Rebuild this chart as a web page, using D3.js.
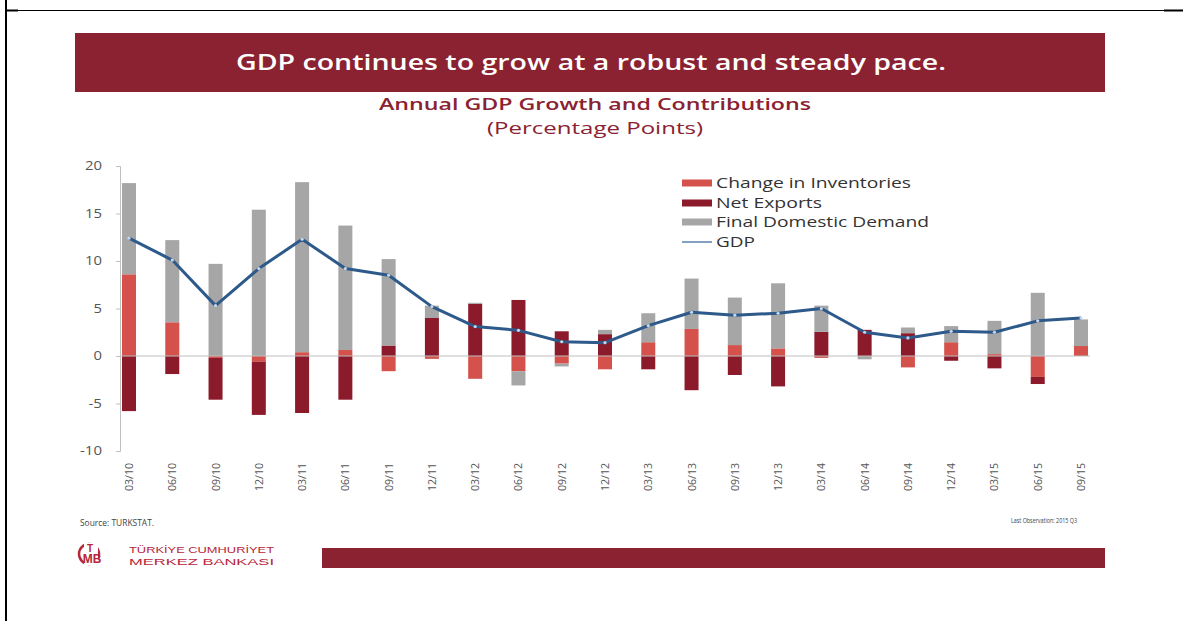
<!DOCTYPE html>
<html><head><meta charset="utf-8">
<script src="https://cdn.jsdelivr.net/npm/d3@7/dist/d3.min.js"></script>
<style>html,body{margin:0;padding:0;background:#fff;}svg{display:block;}</style>
</head><body>
<svg id="chart" width="1183" height="621"></svg>
<script>
const categories = ["03/10","06/10","09/10","12/10","03/11","06/11","09/11","12/11","03/12","06/12","09/12","12/12","03/13","06/13","09/13","12/13","03/14","06/14","09/14","12/14","03/15","06/15","09/15"];
const inventories = [8.6,3.55,-0.2,-0.6,0.4,0.63,-1.6,-0.3,-2.4,-1.6,-0.8,-1.4,1.45,2.85,1.15,0.8,-0.2,0,-1.2,1.45,0.2,-2.2,1.05];
const netExports  = [-5.8,-1.9,-4.4,-5.6,-6.0,-4.6,1.1,4.0,5.5,5.9,2.6,2.3,-1.4,-3.6,-2.0,-3.2,2.55,2.75,2.4,-0.5,-1.3,-0.75,0];
const finalDemand = [9.6,8.65,9.7,15.4,17.9,13.1,9.1,1.3,0.1,-1.5,-0.3,0.45,3.05,5.3,5.0,6.85,2.75,-0.35,0.6,1.7,3.5,6.65,2.8];
const gdp         = [12.4,10.1,5.3,9.2,12.3,9.2,8.5,5.2,3.1,2.7,1.5,1.4,3.2,4.6,4.3,4.5,5.0,2.5,1.9,2.6,2.5,3.7,4.0];
const yTicks = [-10,-5,0,5,10,15,20];
const seriesNames = ["Change in Inventories","Net Exports","Final Domestic Demand","GDP"];
const seriesColors = ["#d5514b","#8b1a2b","#a6a6a6","#2d5a8a"];

const svg = d3.select("#chart");
const maroon = "#8a2231";

function fit(sel, w){ sel.attr("textLength", w).attr("lengthAdjust","spacingAndGlyphs"); return sel; }

// frame lines
svg.append("line").attr("x1",6).attr("x2",6).attr("y1",0).attr("y2",621).attr("stroke","#000").attr("stroke-width",2);
svg.append("line").attr("x1",5).attr("x2",1183).attr("y1",10.5).attr("y2",10.5).attr("stroke","#000").attr("stroke-width",1);
svg.append("rect").attr("x",5).attr("y",9.5).attr("width",13).attr("height",2).attr("fill","#000");
svg.append("rect").attr("x",1164).attr("y",9.5).attr("width",19).attr("height",2).attr("fill","#000");

// banner
svg.append("rect").attr("x",75).attr("y",33).attr("width",1030).attr("height",59).attr("fill",maroon);
fit(svg.append("text").attr("x",236).attr("y",70).attr("fill","#fff")
  .attr("font-family","Open Sans").attr("font-weight",600).attr("font-size",22)
  .text("GDP continues to grow at a robust and steady pace."),710);

fit(svg.append("text").attr("x",379).attr("y",110).attr("fill",maroon)
  .attr("font-family","Open Sans").attr("font-weight",600).attr("font-size",16)
  .text("Annual GDP Growth and Contributions"),432);
fit(svg.append("text").attr("x",487).attr("y",134).attr("fill",maroon)
  .attr("font-family","Open Sans").attr("font-size",16)
  .text("(Percentage Points)"),216);

// scales
const y = d3.scaleLinear().domain([-10,20]).range([451,166]);
const x = d3.scalePoint().domain(categories).range([129,1081]);
const barW = 14;

// y axis
const yAxis = svg.append("g").attr("transform","translate(120,0)")
  .call(d3.axisLeft(y).tickValues(yTicks).tickSize(4).tickPadding(14).tickFormat(d=>String(d)));
yAxis.select(".domain").attr("stroke","#bfbfbf");
yAxis.selectAll(".tick line").attr("stroke","#bfbfbf");
yAxis.selectAll(".tick text").attr("fill","#555").attr("font-family","Open Sans").attr("font-size",12)
  .each(function(){ const t=d3.select(this); const s=t.text(); const w=s.replace("-","").length*8.5+(s.includes("-")?5:0); fit(t, w); });

// stacking
const series = [inventories, netExports, finalDemand];
const segs = [];
categories.forEach((c,i)=>{
  let pos=0, neg=0;
  series.forEach((s,k)=>{
    const v=s[i];
    if (v>=0){ segs.push({c,k,y0:pos,y1:pos+v}); pos+=v; }
    else { segs.push({c,k,y0:neg+v,y1:neg}); neg+=v; }
  });
});
svg.append("g").selectAll("rect").data(segs).join("rect")
  .attr("x",d=>x(d.c)-barW/2).attr("width",barW)
  .attr("y",d=>y(d.y1)).attr("height",d=>Math.max(0,y(d.y0)-y(d.y1)))
  .attr("fill",d=>seriesColors[d.k]);

// zero line
svg.append("line").attr("x1",120).attr("x2",1090).attr("y1",y(0)).attr("y2",y(0))
  .attr("stroke","#bfbfbf").attr("stroke-width",1.2);

// x labels
svg.append("g").selectAll("text").data(categories).join("text")
  .attr("transform",d=>`translate(${x(d)+4},463) rotate(-90)`)
  .attr("text-anchor","end").attr("fill","#555")
  .attr("font-family","Open Sans").attr("font-size",10.5)
  .text(d=>d)
  .each(function(){ fit(d3.select(this),28); });

// GDP line
const line = d3.line().x((d,i)=>x(categories[i])).y(d=>y(d));
svg.append("path").datum(gdp).attr("d",line).attr("fill","none")
  .attr("stroke",seriesColors[3]).attr("stroke-width",3).attr("stroke-linejoin","round");
svg.append("g").selectAll("circle").data(gdp).join("circle")
  .attr("cx",(d,i)=>x(categories[i])).attr("cy",d=>y(d)).attr("r",1.6).attr("fill","#c9d6e6");

// legend
const lg = svg.append("g");
const rowsY = [183,203,222,242];
const textW = [195,106,213,39];
seriesNames.forEach((n,i)=>{
  if (i<3) lg.append("rect").attr("x",682).attr("y",rowsY[i]-3.5).attr("width",30).attr("height",7).attr("fill",seriesColors[i]);
  else lg.append("line").attr("x1",682).attr("x2",712).attr("y1",rowsY[i]).attr("y2",rowsY[i]).attr("stroke","#5a7fae").attr("stroke-width",1.5);
  fit(lg.append("text").attr("x",716).attr("y",rowsY[i]+5).attr("fill","#333")
    .attr("font-family","Open Sans").attr("font-size",14.5).text(n), textW[i]);
});

// footer
fit(svg.append("text").attr("x",80).attr("y",526).attr("fill","#444").attr("font-family","Open Sans").attr("font-size",9).text("Source: TURKSTAT."),74);
fit(svg.append("text").attr("x",1044).attr("y",523).attr("fill","#444").attr("font-family","Open Sans").attr("font-size",8).attr("text-anchor","middle").text("Last Observation: 2015 Q3"),66);

// logo
const logo = svg.append("g");
logo.append("circle").attr("cx",89).attr("cy",554).attr("r",10).attr("fill","none").attr("stroke","#b8263a").attr("stroke-width",2.5);
logo.append("rect").attr("x",84).attr("y",543).attr("width",14).attr("height",22).attr("fill","#fff");
logo.append("text").attr("x",90).attr("y",552).attr("text-anchor","middle").attr("fill","#b8263a").attr("font-family","Liberation Sans Narrow, Liberation Sans").attr("font-weight","bold").attr("font-size",10).text("T");
logo.append("text").attr("x",92).attr("y",563).attr("text-anchor","middle").attr("fill","#b8263a").attr("font-family","Liberation Sans Narrow, Liberation Sans").attr("font-weight","bold").attr("font-size",12).text("MB");
fit(logo.append("text").attr("x",129).attr("y",553).attr("fill","#b8263a").attr("font-family","Liberation Sans Narrow, Liberation Sans").attr("font-size",9).text("TÜRKİYE CUMHURİYET"),145);
fit(logo.append("text").attr("x",129).attr("y",565).attr("fill","#b8263a").attr("font-family","Liberation Sans Narrow, Liberation Sans").attr("font-size",9).text("MERKEZ BANKASI"),145);

svg.append("rect").attr("x",322).attr("y",548).attr("width",783).attr("height",20).attr("fill",maroon);
</script>
</body></html>
